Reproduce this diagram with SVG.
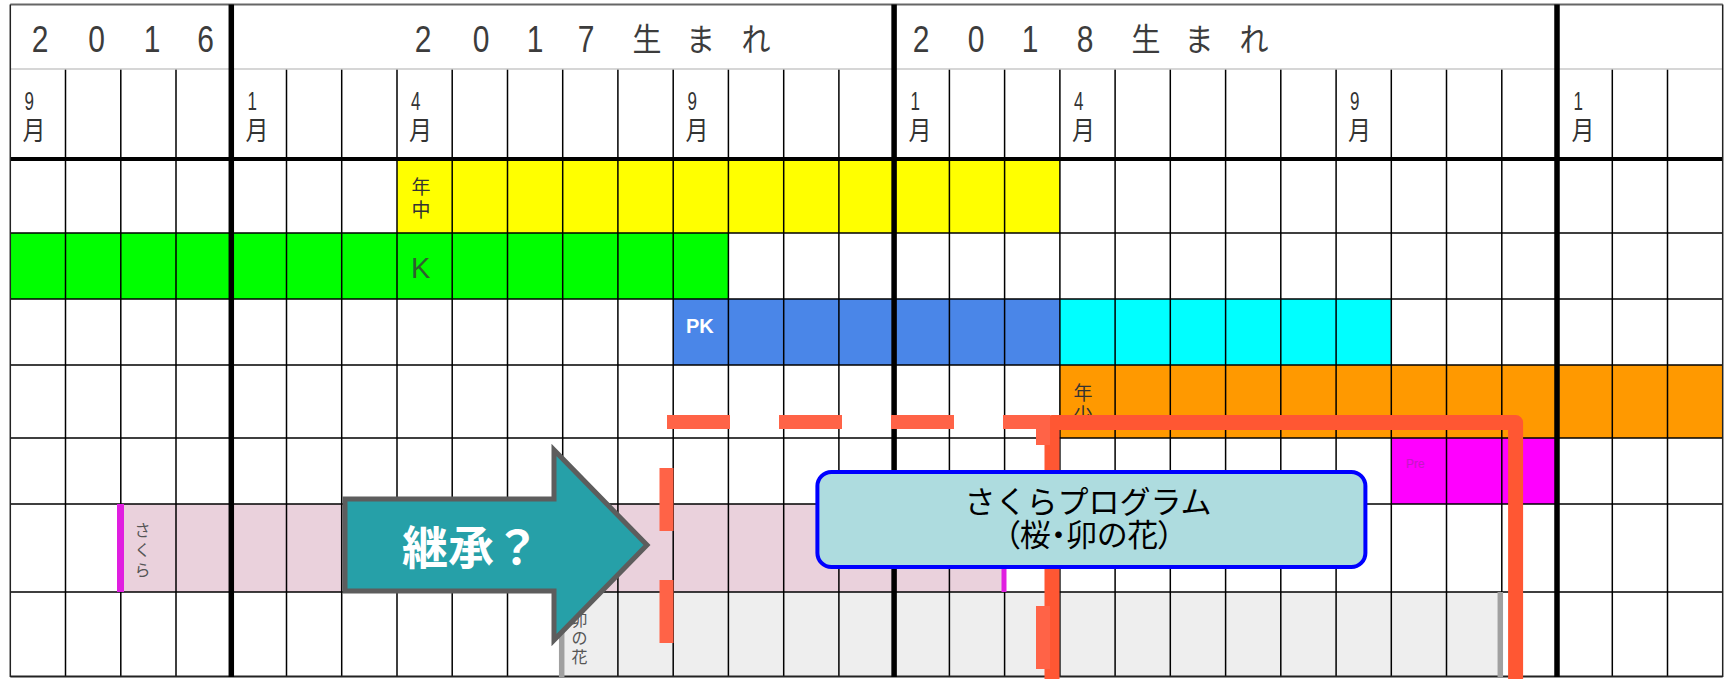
<svg xmlns="http://www.w3.org/2000/svg" width="1733" height="679" viewBox="0 0 1733 679">
<style>
.hd{font-family:"Liberation Sans","Noto Sans CJK JP",sans-serif;font-size:30px;fill:#3c3c3c;text-anchor:middle}
.hj{font-family:"Noto Sans CJK JP",sans-serif;font-size:29px;fill:#3c3c3c;text-anchor:middle}
.md{font-family:"Liberation Sans",sans-serif;font-size:17px;fill:#333}
.mj{font-family:"Noto Sans CJK JP",sans-serif;font-size:23px;fill:#333}
.lb{font-family:"Noto Sans CJK JP",sans-serif;font-size:19px;fill:#333;text-anchor:middle}
.sm{font-family:"Noto Sans CJK JP",sans-serif;font-size:16px;fill:#555;text-anchor:middle}
.thin{stroke:#000;stroke-width:1.5;fill:none}
.thick{stroke:#000;stroke-width:5.5;fill:none}
.dash{stroke:#ff6347;stroke-width:14;fill:none;stroke-dasharray:63 49}
</style>
<rect width="1733" height="679" fill="#fff"/>
<g id="bars">
<rect x="397" y="159" width="662.9" height="74" fill="#ffff00"/>
<rect x="10.3" y="233" width="718.1" height="66" fill="#00ff00"/>
<rect x="673.2" y="299" width="386.7" height="66" fill="#4a86e8"/>
<rect x="1059.9" y="299" width="331.4" height="66" fill="#00ffff"/>
<rect x="1059.9" y="365" width="662.8" height="73" fill="#ff9900"/>
<rect x="1391.3" y="438" width="165.7" height="66" fill="#ff00ff"/>
<rect x="120.8" y="504" width="883.8" height="88" fill="#ead1dc"/>
<rect x="562.7" y="592" width="939.1" height="85" fill="#eeeeee"/>
</g>
<g id="grid">
<path class="thin" d="M65.5 69V677M120.8 69V677M176 69V677M286.5 69V677M341.7 69V677M397 69V677M452.2 69V677M507.5 69V677M562.7 69V677M617.9 69V677M673.2 69V677M728.4 69V677M783.7 69V677M838.9 69V677M949.4 69V677M1004.6 69V677M1059.9 69V677M1115.1 69V677M1170.3 69V677M1225.6 69V677M1280.8 69V677M1336.1 69V677M1391.3 69V677M1446.5 69V677M1501.8 69V677M1612.3 69V677M1667.5 69V677"/>
<path class="thin" d="M10.3 233H1722.7M10.3 299H1722.7M10.3 365H1722.7M10.3 438H1722.7M10.3 504H1722.7M10.3 592H1722.7"/>
<path d="M10.3 69H1722.7" stroke="#c8c8c8" stroke-width="1.5"/>
<path d="M10.3 4.5H1722.7" stroke="#666" stroke-width="2"/>
<path d="M10.3 159H1722.7" stroke="#000" stroke-width="4"/>
<path d="M10.3 676.5H1722.7" stroke="#222" stroke-width="2"/>
<path d="M10.3 4.5V677M1722.7 4.5V677" stroke="#222" stroke-width="1.5"/>
<path class="thick" d="M231.3 4.5V677M894.1 4.5V677M1557 4.5V677"/>
<path d="M120.5 504V592" stroke="#e01ee0" stroke-width="7"/>
<path d="M1004 504V592" stroke="#e01ee0" stroke-width="5"/>
<path d="M561.7 592V677M1500.3 592V677" stroke="#a0a0a0" stroke-width="5.5"/>
</g>
<g id="header">
<text class="hd" transform="translate(40,52) scale(1,1.2)">2</text>
<text class="hd" transform="translate(96.5,52) scale(1,1.2)">0</text>
<text class="hd" transform="translate(152,52) scale(1,1.2)">1</text>
<text class="hd" transform="translate(205.5,52) scale(1,1.2)">6</text>
<text class="hd" transform="translate(423,52) scale(1,1.2)">2</text>
<text class="hd" transform="translate(481,52) scale(1,1.2)">0</text>
<text class="hd" transform="translate(535,52) scale(1,1.2)">1</text>
<text class="hd" transform="translate(586,52) scale(1,1.2)">7</text>
<text class="hj" transform="translate(647,51) scale(1,1.1)">生</text>
<text class="hj" transform="translate(700.6,51) scale(1,1.1)">ま</text>
<text class="hj" transform="translate(756,51) scale(1,1.1)">れ</text>
<text class="hd" transform="translate(921,52) scale(1,1.2)">2</text>
<text class="hd" transform="translate(976,52) scale(1,1.2)">0</text>
<text class="hd" transform="translate(1030,52) scale(1,1.2)">1</text>
<text class="hd" transform="translate(1085,52) scale(1,1.2)">8</text>
<text class="hj" transform="translate(1146,51) scale(1,1.1)">生</text>
<text class="hj" transform="translate(1199,51) scale(1,1.1)">ま</text>
<text class="hj" transform="translate(1254,51) scale(1,1.1)">れ</text>
</g>
<g id="months">
<text class="md" transform="translate(24.5,110) scale(1,1.5)">9</text>
<text class="mj" transform="translate(22.5,139.5) scale(1,1.15)">月</text>
<text class="md" transform="translate(247.5,110) scale(1,1.5)">1</text>
<text class="mj" transform="translate(245.5,139.5) scale(1,1.15)">月</text>
<text class="md" transform="translate(411,110) scale(1,1.5)">4</text>
<text class="mj" transform="translate(409,139.5) scale(1,1.15)">月</text>
<text class="md" transform="translate(687.5,110) scale(1,1.5)">9</text>
<text class="mj" transform="translate(685.5,139.5) scale(1,1.15)">月</text>
<text class="md" transform="translate(910.5,110) scale(1,1.5)">1</text>
<text class="mj" transform="translate(908.5,139.5) scale(1,1.15)">月</text>
<text class="md" transform="translate(1074,110) scale(1,1.5)">4</text>
<text class="mj" transform="translate(1072,139.5) scale(1,1.15)">月</text>
<text class="md" transform="translate(1350,110) scale(1,1.5)">9</text>
<text class="mj" transform="translate(1348,139.5) scale(1,1.15)">月</text>
<text class="md" transform="translate(1573.5,110) scale(1,1.5)">1</text>
<text class="mj" transform="translate(1571.5,139.5) scale(1,1.15)">月</text>
</g>
<g id="bar-labels">
<text class="lb" x="421" y="194">年</text>
<text class="lb" x="421" y="216.5">中</text>
<text x="411" y="278" font-family="Liberation Sans,sans-serif" font-size="29" fill="#2f5f2f">K</text>
<text x="686" y="333" font-family="Liberation Sans,sans-serif" font-size="20" font-weight="bold" fill="#fff">PK</text>
<text class="lb" x="1083" y="399.5">年</text>
<text class="lb" x="1083" y="421.5">少</text>
<text x="1406" y="468" font-family="Liberation Sans,sans-serif" font-size="12" fill="#c418c4">Pre</text>
<text class="sm" x="142.5" y="536">さ</text>
<text class="sm" x="142.5" y="556">く</text>
<text class="sm" x="142.5" y="576">ら</text>
<text class="sm" x="579.5" y="626">卯</text>
<text class="sm" x="579.5" y="644">の</text>
<text class="sm" x="579.5" y="663">花</text>
</g>
<g id="arrow">
<polygon points="345,499 554,499 554,450 647,545 554,640 554,591 345,591" fill="#26a0a8" stroke="#5d5d5d" stroke-width="5"/>
<text x="471" y="564" font-family="Noto Sans CJK JP,sans-serif" font-size="46" font-weight="bold" fill="#fff" text-anchor="middle">継承？</text>
</g>
<g id="solid-frame">
<rect x="1052" y="422.5" width="463.6" height="300" fill="none" stroke="#ff5733" stroke-width="15" stroke-linejoin="round"/>
</g>
<g id="dashed-frame">
<path class="dash" d="M667 422H1043V700"/>
<path class="dash" d="M666.5 468V700"/>
</g>
<g id="callout">
<rect x="817.4" y="472" width="548" height="95" rx="14" fill="#aedcdf" stroke="#0000ff" stroke-width="4"/>
<text x="1088" y="513" font-family="Noto Sans CJK JP,sans-serif" font-size="31" fill="#000" text-anchor="middle">さくらプログラム</text>
<text x="1089" y="546" font-family="Noto Sans CJK JP,sans-serif" font-size="31" fill="#000" text-anchor="middle" style="font-feature-settings:'palt'">（桜・卯の花）</text>
</g>
<g id="connectors"/>
</svg>
